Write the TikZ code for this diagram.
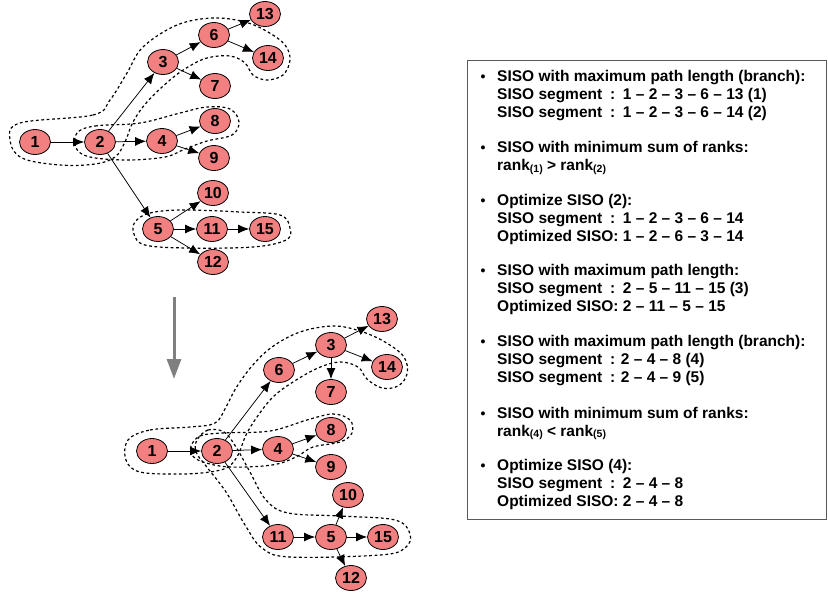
\documentclass[tikz,border=0pt]{standalone}
\usepackage{fontspec}
\setmainfont{Liberation Sans}
\usetikzlibrary{shapes.geometric,arrows.meta}
\definecolor{nodefill}{RGB}{242,128,128}
\definecolor{arrowgray}{RGB}{128,128,128}
\definecolor{boxgray}{RGB}{90,90,90}
\newcommand\rkidx[1]{\raisebox{-1.5pt}{\fontsize{10.5}{10.5}\selectfont(#1)}}
\begin{document}
\begin{tikzpicture}[x=1pt,y=-1pt,
 vx/.style={ellipse,draw=black,line width=0.8pt,fill=nodefill,minimum width=31pt,minimum height=25pt,inner sep=0pt,font=\fontsize{16}{16}\selectfont\bfseries},
 edge/.style={-{Latex[length=11pt,width=9pt]},line width=0.75pt},
 hull/.style={dash pattern=on 2.8pt off 2.6pt,line width=1.2pt},
 txt/.style={anchor=base west,inner sep=0pt,font=\fontsize{15.5}{18}\selectfont\bfseries},
 bul/.style={anchor=base,inner sep=0pt,font=\fontsize{14}{18}\selectfont\bfseries}]
\useasboundingbox (0,0) rectangle (828,595);

% ---------- top graph outlines ----------
\draw[hull] plot[smooth cycle,tension=0.6] coordinates{
 (20,123) (93,115) (110,100) (127,73) (143,47) (177,25) (213,18) (245,22) (268,32)
 (285,45) (290,60) (283,75) (267,80) (253,75) (245,63) (230,56) (207,58) (188,67)
 (170,80) (147,102) (133,122) (125,142) (115,157) (95,164) (60,165) (22,158) (10,140)};
\draw[hull] plot[smooth cycle,tension=0.6] coordinates{
 (77,133) (95,126) (140,123) (180,113) (207,107) (230,109) (239,122) (232,135)
 (207,141) (185,149) (165,157) (127,160) (90,157) (76,148)};
\draw[hull] plot[smooth cycle,tension=0.6] coordinates{
 (135,222) (150,213) (183,210) (240,212) (280,215) (290,228) (286,240) (253,247)
 (187,248) (145,245) (134,234)};

% ---------- bottom graph outlines ----------
\draw[hull] plot[smooth cycle,tension=0.6] coordinates{
 (128,440) (150,430) (190,427) (215,423) (226,407) (236,388) (252,366) (272,347)
 (300,332) (333,326) (360,331) (385,342) (404,357) (407,374) (398,386) (382,388)
 (367,379) (358,367) (340,362) (318,368) (293,382) (273,397) (257,417) (246,435)
 (238,455) (228,467) (210,472) (180,474) (140,472) (126,460)};
\draw[hull] plot[smooth cycle,tension=0.6] coordinates{
 (191,446) (200,436) (222,433) (270,431) (307,420) (333,414) (350,420) (352,433)
 (340,442) (313,447) (296,457) (272,465) (230,467) (203,462) (192,455)};
\draw[hull] plot[smooth cycle,tension=0.6] coordinates{
 (197,440) (208,430) (224,432) (236,447) (250,472) (266,500) (288,513) (340,516)
 (395,520) (410,534) (405,548) (380,555) (290,557) (262,548) (245,525) (226,492)
 (206,466) (196,452)};

% ---------- top graph nodes ----------
\node[vx] (a1)  at (35,142)  {1};
\node[vx] (a2)  at (100,142) {2};
\node[vx] (a3)  at (163,62)  {3};
\node[vx] (a4)  at (162,141) {4};
\node[vx] (a5)  at (158,229) {5};
\node[vx] (a6)  at (214,35)  {6};
\node[vx] (a7)  at (215,86)  {7};
\node[vx] (a8)  at (215,121) {8};
\node[vx] (a9)  at (214,158) {9};
\node[vx] (a10) at (213,193) {10};
\node[vx] (a11) at (212,229) {11};
\node[vx] (a12) at (213,262) {12};
\node[vx] (a13) at (265,14)  {13};
\node[vx] (a14) at (268,58)  {14};
\node[vx] (a15) at (265,229) {15};

\draw[edge] (a1) -- (a2);
\draw[edge] (a2) -- (a3);
\draw[edge] (a2) -- (a4);
\draw[edge] (a2) -- (a5);
\draw[edge] (a3) -- (a6);
\draw[edge] (a3) -- (a7);
\draw[edge] (a4) -- (a8);
\draw[edge] (a4) -- (a9);
\draw[edge] (a5) -- (a10);
\draw[edge] (a5) -- (a11);
\draw[edge] (a5) -- (a12);
\draw[edge] (a6) -- (a13);
\draw[edge] (a6) -- (a14);
\draw[edge] (a11) -- (a15);

% ---------- transition arrow ----------
\coordinate (gtop) at (174,297);
\coordinate (gbot) at (174,379);
\draw[arrowgray,line width=3pt,-{Triangle[length=20pt,width=14pt]}] (gtop) -- (gbot);

% ---------- bottom graph nodes ----------
\node[vx] (b1)  at (152,451) {1};
\node[vx] (b2)  at (217,451) {2};
\node[vx] (b6)  at (279,370) {6};
\node[vx] (b3)  at (331,345) {3};
\node[vx] (b13) at (382,319) {13};
\node[vx] (b14) at (387,367) {14};
\node[vx] (b7)  at (331,392) {7};
\node[vx] (b4)  at (278,449) {4};
\node[vx] (b8)  at (331,430) {8};
\node[vx] (b9)  at (331,467) {9};
\node[vx] (b10) at (348,495) {10};
\node[vx] (b11) at (278,537) {11};
\node[vx] (b5)  at (331,537) {5};
\node[vx] (b15) at (383,537) {15};
\node[vx] (b12) at (351,578) {12};

\draw[edge] (b1) -- (b2);
\draw[edge] (b2) -- (b6);
\draw[edge] (b2) -- (b4);
\draw[edge] (b2) -- (b11);
\draw[edge] (b6) -- (b3);
\draw[edge] (b3) -- (b13);
\draw[edge] (b3) -- (b14);
\draw[edge] (b3) -- (b7);
\draw[edge] (b4) -- (b8);
\draw[edge] (b4) -- (b9);
\draw[edge] (b11) -- (b5);
\draw[edge] (b5) -- (b10);
\draw[edge] (b5) -- (b15);
\draw[edge] (b5) -- (b12);

% ---------- text box ----------
\draw[boxgray,line width=1pt] (467,60) rectangle (826,519);
\node[bul] (u1) at (483,81.5)  {•};
\node[txt] (t1)  at (497,81.5)  {SISO with maximum path length (branch):};
\node[txt] (t2)  at (497,99.5)  {SISO segment\,\,\,:\,\,\,1 – 2 – 3 – 6 – 13 (1)};
\node[txt] (t3)  at (497,117.5) {SISO segment\,\,\,:\,\,\,1 – 2 – 3 – 6 – 14 (2)};
\node[bul] (u2) at (483,152.5) {•};
\node[txt] (t4)  at (497,152.5) {SISO with minimum sum of ranks:};
\node[txt] (t5)  at (497,170.5) {rank\rkidx{1} > rank\rkidx{2}};
\node[bul] (u3) at (483,205) {•};
\node[txt] (t6)  at (497,205)   {Optimize SISO (2):};
\node[txt] (t7)  at (497,223)   {SISO segment\,\,\,:\,\,\,1 – 2 – 3 – 6 – 14};
\node[txt] (t8)  at (497,241)   {Optimized SISO: 1 – 2 – 6 – 3 – 14};
\node[bul] (u4) at (483,275.5) {•};
\node[txt] (t9)  at (497,275.5) {SISO with maximum path length:};
\node[txt] (t10) at (497,293.5) {SISO segment\,\,\,:\,\,\,2 – 5 – 11 – 15 (3)};
\node[txt] (t11) at (497,311.5) {Optimized SISO: 2 – 11 – 5 – 15};
\node[bul] (u5) at (483,346.5) {•};
\node[txt] (t12) at (497,346.5) {SISO with maximum path length (branch):};
\node[txt] (t13) at (497,364.5) {SISO segment\,\,\,: 2 – 4 – 8 (4)};
\node[txt] (t14) at (497,382.5) {SISO segment\,\,\,: 2 – 4 – 9 (5)};
\node[bul] (u6) at (483,418) {•};
\node[txt] (t15) at (497,418)   {SISO with minimum sum of ranks:};
\node[txt] (t16) at (497,436)   {rank\rkidx{4} < rank\rkidx{5}};
\node[bul] (u7) at (483,470) {•};
\node[txt] (t17) at (497,470)   {Optimize SISO (4):};
\node[txt] (t18) at (497,488)   {SISO segment\,\,\,:\,\,\,2 – 4 – 8};
\node[txt] (t19) at (497,506)   {Optimized SISO: 2 – 4 – 8};
\end{tikzpicture}
\end{document}
